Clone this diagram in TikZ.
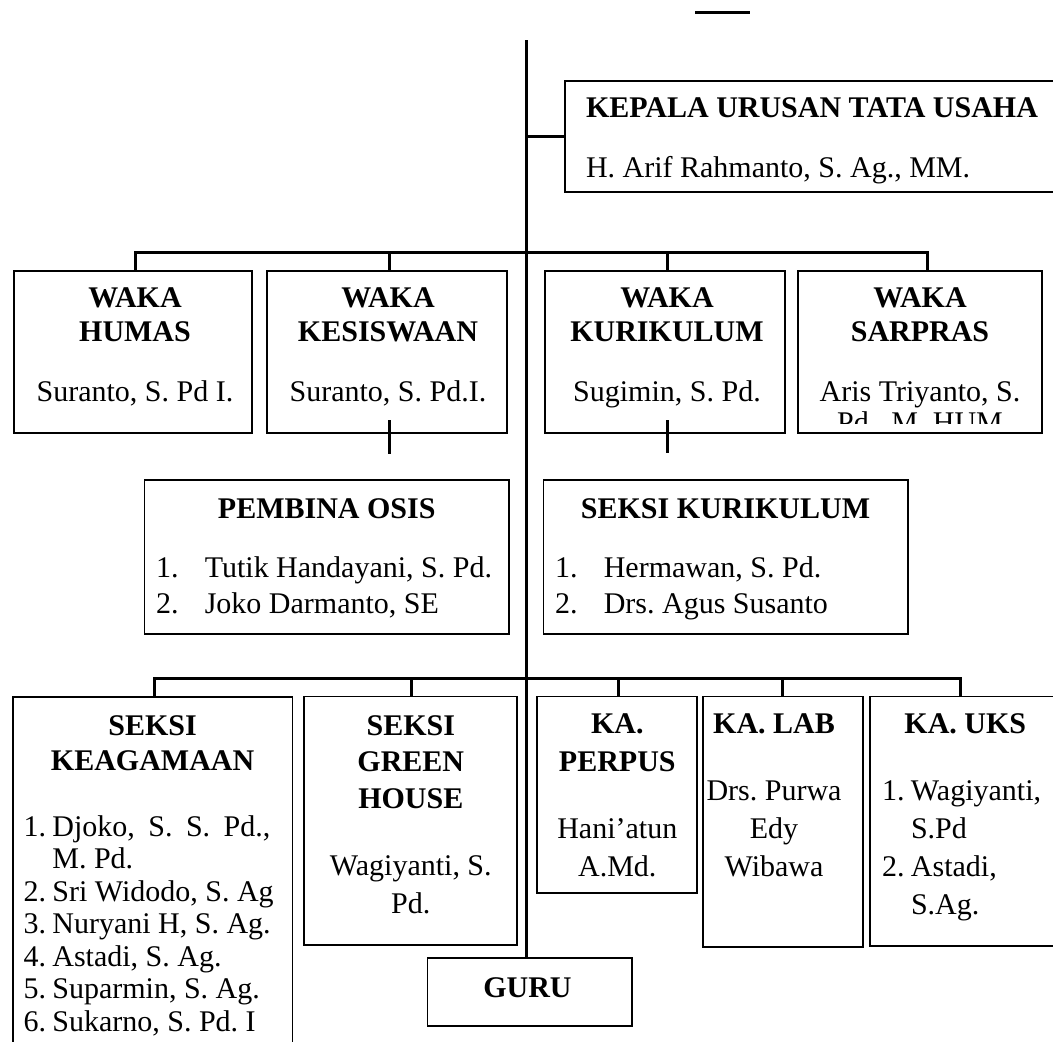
\documentclass[tikz,border=0pt]{standalone}
\usepackage{fontspec}
\setmainfont{Liberation Serif}
\usetikzlibrary{fit}
\frenchspacing
\newcommand\orgfont{\fontsize{30pt}{32.5pt}\selectfont\frenchspacing}
\newcommand\ctext[2]{\parbox[t]{#1}{\centering #2}}
\newcommand\ltext[2]{\parbox[t]{#1}{\raggedright #2}}
\newcommand\itemnum[2]{\makebox[#1][l]{#2}}
\begin{document}
\begin{tikzpicture}[x=1pt,y=-1pt,
  orgbox/.style={draw, line width=1.8pt, inner sep=0pt, outer sep=0pt},
  conn/.style={line width=3pt},
  txt/.style={inner sep=0pt, outer sep=0pt, font=\orgfont}]
\fill[white] (0,0) rectangle (1053,1042);
\path[use as bounding box, clip] (0,0) rectangle (1053,1042);

% ---------- boxes ----------
\node[orgbox, fit={(565,81) (1070,192)}] (kepala) {};
\node[orgbox, fit={(14,271) (252,433)}] (humas) {};
\node[orgbox, fit={(267,271) (507,433)}] (kesis) {};
\node[orgbox, fit={(545,271) (785,433)}] (wkur) {};
\node[orgbox, fit={(798,271) (1042,433)}] (sarpras) {};
\node[orgbox, fit={(144.5,480) (509,634)}] (osis) {};
\node[orgbox, fit={(543.5,480) (908,634)}] (skur) {};
\node[orgbox, fit={(12.8,697) (292.4,1060)}] (keag) {};
\node[orgbox, fit={(304.3,696.5) (516.6,945)}] (green) {};
\node[orgbox, fit={(537,696.5) (696.7,892.7)}] (perpus) {};
\node[orgbox, fit={(702.9,696.5) (862.6,946.7)}] (lab) {};
\node[orgbox, fit={(870,696.5) (1070,946)}] (uks) {};
\node[orgbox, fit={(427.5,958.3) (632,1026)}] (guru) {};

% ---------- connectors ----------
\coordinate (tl1) at (695,12);
\coordinate (tl2) at (750,12);
\draw[conn] (tl1) -- (tl2);
\coordinate (mtop) at (526,40);
\draw[conn] (mtop) -- (mtop |- guru.north);
\draw[conn] (mtop |- kepala.west) -- (kepala.west);

\coordinate (wb1) at (135,252);
\coordinate (wb2) at (389,252);
\coordinate (wb3) at (667,252);
\coordinate (wb4) at (927,252);
\draw[conn] (wb1 |- humas.north) -- (wb1) -- (wb4) -- (wb4 |- sarpras.north);
\draw[conn] (wb2) -- (wb2 |- kesis.north);
\draw[conn] (wb3) -- (wb3 |- wkur.north);

\coordinate (s1a) at (389,420);
\coordinate (s1b) at (389,454);
\coordinate (s2a) at (667,420);
\coordinate (s2b) at (667,453);
\draw[conn] (s1a) -- (s1b);
\draw[conn] (s2a) -- (s2b);

\coordinate (bb1) at (154,678);
\coordinate (bb2) at (411,678);
\coordinate (bb3) at (618.6,678);
\coordinate (bb4) at (782.4,678);
\coordinate (bb5) at (960,678);
\draw[conn] (bb1 |- keag.north) -- (bb1) -- (bb5) -- (bb5 |- uks.north);
\draw[conn] (bb2) -- (bb2 |- green.north);
\draw[conn] (bb3) -- (bb3 |- perpus.north);
\draw[conn] (bb4) -- (bb4 |- lab.north);

% ---------- texts ----------
\node[txt, anchor=base west] (kepalaT) at (586,117)
  {\ltext{470pt}{\bfseries KEPALA URUSAN TATA USAHA\\[27.5pt]\mdseries H. Arif Rahmanto, S. Ag., MM.}};

\node[txt, anchor=base] (humasT) at (135,307)
  {\ctext{230pt}{\bfseries WAKA\\[2pt]HUMAS\\[27.5pt]\mdseries Suranto, S. Pd I.}};
\node[txt, anchor=base] (kesisT) at (388,307)
  {\ctext{236pt}{\bfseries WAKA\\[2pt]KESISWAAN\\[27.5pt]\mdseries Suranto, S. Pd.I.}};
\node[txt, anchor=base] (wkurT) at (667,307)
  {\ctext{236pt}{\bfseries WAKA\\[2pt]KURIKULUM\\[27.5pt]\mdseries Sugimin, S. Pd.}};
\begin{scope}
\clip (798,271) rectangle (1042,423.5);
\node[txt, anchor=base] (sarprasT) at (920,307)
  {\ctext{240pt}{\bfseries WAKA\\[2pt]SARPRAS\\[27.5pt]\mdseries Aris Triyanto, S.\\[-1.5pt]Pd., M. HUM}};
\end{scope}

\node[txt, anchor=base] (osisT) at (326.7,518) {\textbf{PEMBINA OSIS}};
\node[txt, anchor=base west] (osisL) at (156,577)
  {\ltext{340pt}{\itemnum{48.8pt}{1.}Tutik Handayani, S. Pd.\\[3.5pt]\itemnum{48.8pt}{2.}Joko Darmanto, SE}};
\node[txt, anchor=base] (skurT) at (725.5,518) {\textbf{SEKSI KURIKULUM}};
\node[txt, anchor=base west] (skurL) at (555,577)
  {\ltext{340pt}{\itemnum{48.8pt}{1.}Hermawan, S. Pd.\\[3.5pt]\itemnum{48.8pt}{2.}Drs. Agus Susanto}};

\node[txt, anchor=base] (keagT) at (152.6,735)
  {\ctext{270pt}{\bfseries SEKSI\\[2.5pt]KEAGAMAAN}};
\node[txt, anchor=base west] (keagL) at (23.7,836)
  {\ltext{270pt}{\itemnum{28.7pt}{1.}\makebox[218pt][s]{Djoko, S. S. Pd.,}\\
  \hspace*{28.7pt}M. Pd.\\
  \itemnum{28.7pt}{2.}Sri Widodo, S. Ag\\
  \itemnum{28.7pt}{3.}Nuryani H, S. Ag.\\
  \itemnum{28.7pt}{4.}Astadi, S. Ag.\\
  \itemnum{28.7pt}{5.}Suparmin, S. Ag.\\
  \itemnum{28.7pt}{6.}Sukarno, S. Pd. I}};

\node[txt, anchor=base] (greenT) at (410.8,735)
  {\ctext{200pt}{\bfseries SEKSI\\[4pt]GREEN\\[4pt]HOUSE\\[34.5pt]\mdseries Wagiyanti, S.\\[6pt]Pd.}};
\node[txt, anchor=base] (perpusT) at (617.3,733)
  {\ctext{150pt}{\bfseries KA.\\[5.5pt]PERPUS\\[34.5pt]\mdseries Hani’atun\\[5.5pt]A.Md.}};
\node[txt, anchor=base] (labT) at (774,733)
  {\ctext{150pt}{\bfseries KA. LAB\\[34.5pt]\mdseries Drs. Purwa\\[5.5pt]Edy\\[5.5pt]Wibawa}};
\node[txt, anchor=base] (uksT) at (965.3,733) {\textbf{KA. UKS}};
\node[txt, anchor=base west] (uksL) at (882,800)
  {\ltext{160pt}{\itemnum{29pt}{1.}Wagiyanti,\\[5.5pt]\hspace*{29pt}S.Pd\\[5.5pt]\itemnum{29pt}{2.}Astadi,\\[5.5pt]\hspace*{29pt}S.Ag.}};

\node[txt, anchor=base] (guruT) at (527.5,997) {\textbf{GURU}};
\end{tikzpicture}
\end{document}
